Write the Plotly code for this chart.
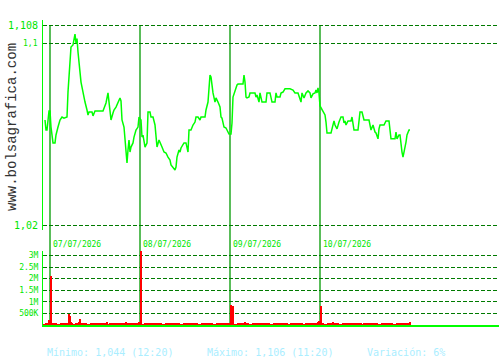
import plotly.graph_objects as go

# ---------------- data ----------------
# time index: 1 unit per sample slot, day sessions start at 0, 90, 180, 270
day_starts = [0, 90, 180, 270]
day_labels = ["07/07/2026", "08/07/2026", "09/07/2026", "10/07/2026"]

price_t = [-5, -4, -3, -1, 0, 1, 3, 5, 6, 7, 8, 10, 12, 14, 17, 18, 20, 21, 23, 24, 25, 26, 27, 28,
           29, 30, 31, 32, 33, 35, 37, 38, 39, 42, 43, 45, 53, 54, 56, 58, 59, 60, 61, 63, 64, 66,
           68, 70, 71, 72, 74, 75, 77, 78, 79, 80, 81, 83, 84, 86, 88,
           89, 91, 92, 93, 95, 97, 98, 100, 101, 103, 105, 106, 107, 109, 110, 112, 114, 116, 118,
           120, 121, 123, 125, 126, 127, 129, 130, 131, 134, 136, 138, 139, 141, 143, 145, 146, 148,
           150, 151, 155, 156, 158, 159, 160, 161, 162, 163, 165, 166, 168, 170, 171, 172, 174, 176,
           177, 179, 181, 182,
           183, 185, 187, 188, 193, 194, 195, 196, 197, 199, 200, 205, 206, 207, 209, 210, 212, 216,
           217, 220, 222, 225, 226, 227, 230, 231, 233, 235, 240, 243, 245, 248, 250, 251, 252, 254,
           256, 258, 260, 261, 263, 265, 266, 267, 268, 269, 270,
           271, 273, 275, 276, 277, 281, 282, 284, 285, 287, 289, 290, 291, 293, 294, 295, 296, 298,
           301, 302, 303, 304, 308, 309, 310, 312, 314, 319, 320, 321, 323, 324, 325, 326, 327, 328,
           329, 330, 334, 336, 339, 340, 341, 345, 346, 347, 349, 350, 351, 352, 353, 354, 355, 356,
           357, 358, 359, 360]

price_v = [1.0662, 1.0618, 1.0618, 1.0702, 1.0702, 1.0631, 1.0561, 1.0561, 1.0596, 1.0618, 1.0631,
           1.0662, 1.0675, 1.0670, 1.0675, 1.0785, 1.0926, 1.0983, 1.0992, 1.1014, 1.1040, 1.1000,
           1.1020, 1.0961, 1.0913, 1.0873, 1.0829, 1.0807, 1.0781, 1.0741, 1.0706, 1.0684, 1.0697,
           1.0697, 1.0680, 1.0702, 1.0702, 1.0715, 1.0737, 1.0781, 1.0741, 1.0697, 1.0662, 1.0693,
           1.0706, 1.0719, 1.0737, 1.0759, 1.0746, 1.0662, 1.0631, 1.0574, 1.0473, 1.0530, 1.0574,
           1.0521, 1.0543, 1.0561, 1.0587, 1.0618, 1.0631,
           1.0675, 1.0662, 1.0587, 1.0596, 1.0543, 1.0561, 1.0697, 1.0697, 1.0675, 1.0675, 1.0640,
           1.0587, 1.0543, 1.0574, 1.0561, 1.0543, 1.0521, 1.0517, 1.0499, 1.0486, 1.0464, 1.0451,
           1.0442, 1.0455, 1.0499, 1.0530, 1.0521, 1.0539, 1.0561, 1.0561, 1.0521, 1.0618, 1.0618,
           1.0640, 1.0653, 1.0675, 1.0675, 1.0662, 1.0675, 1.0675, 1.0706, 1.0741, 1.0803, 1.0860,
           1.0851, 1.0803, 1.0781, 1.0741, 1.0759, 1.0741, 1.0719, 1.0675, 1.0670, 1.0631, 1.0627,
           1.0618, 1.0600, 1.0600, 1.0649,
           1.0763, 1.0794, 1.0816, 1.0820, 1.0820, 1.0860, 1.0829, 1.0763, 1.0759, 1.0763, 1.0781,
           1.0781, 1.0763, 1.0772, 1.0741, 1.0781, 1.0741, 1.0741, 1.0781, 1.0781, 1.0741, 1.0741,
           1.0781, 1.0763, 1.0763, 1.0781, 1.0785, 1.0799, 1.0799, 1.0794, 1.0781, 1.0781, 1.0759,
           1.0741, 1.0781, 1.0759, 1.0781, 1.0790, 1.0781, 1.0759, 1.0777, 1.0781, 1.0794, 1.0781,
           1.0803, 1.0781, 1.0724,
           1.0715, 1.0697, 1.0684, 1.0653, 1.0605, 1.0605, 1.0627, 1.0658, 1.0640, 1.0623, 1.0653,
           1.0662, 1.0675, 1.0675, 1.0649, 1.0658, 1.0640, 1.0658, 1.0658, 1.0675, 1.0649, 1.0618,
           1.0618, 1.0671, 1.0697, 1.0697, 1.0662, 1.0662, 1.0640, 1.0618, 1.0640, 1.0623, 1.0609,
           1.0605, 1.0592, 1.0579, 1.0623, 1.0640, 1.0640, 1.0658, 1.0658, 1.0618, 1.0579, 1.0579,
           1.0609, 1.0579, 1.0596, 1.0596, 1.0552, 1.0521, 1.0499, 1.0517, 1.0539, 1.0565, 1.0596,
           1.0605, 1.0618, 1.0618]

price_ticks = [1.108, 1.1, 1.02]
price_tick_labels = ["1,108", "1,1", "1,02"]
price_tick_sizes = [10, 8, 10]

# volume spikes
vol_t = [-4, -1, 1, 19, 20, 21, 22, 27, 28, 29, 30, 33, 57, 60, 72, 74, 76, 78, 80, 86, 88, 89,
         91, 97, 99, 102, 104, 117, 127, 139, 162, 179, 181, 183, 195, 241, 256, 268, 269, 270,
         271, 283, 304, 310, 311, 340, 349, 350, 354, 355, 360]
vol_v = [70000, 200000, 2100000, 470000, 390000, 120000, 80000, 60000, 90000, 140000, 260000,
         80000, 130000, 60000, 60000, 60000, 130000, 60000, 60000, 50000, 60000, 130000,
         3200000, 60000, 60000, 60000, 90000, 60000, 90000, 60000, 60000, 80000, 860000, 820000,
         140000, 60000, 100000, 110000, 160000, 60000, 820000, 140000, 60000, 70000, 70000,
         60000, 70000, 70000, 70000, 70000, 110000]

# small background volumes (every 3 slots from -6)
vol_minor = [40, 50, 45, 55, 50, 40, 45, 50, 55, 45, 40, 50, 45, 50, 55, 40, 45, 50, 45, 55,
             50, 45, 40, 50, 55, 45, 50, 40, 45, 50, 55, 50, 45, 40, 50, 45, 55, 50, 45, 50,
             40, 45, 50, 55, 45, 50, 40, 45, 50, 55, 45, 50, 40, 45, 55, 50, 45, 40, 50, 45,
             55, 50, 45, 50, 40, 45, 50, 55, 45, 40, 50, 45, 55, 50, 45, 50, 40, 45, 50, 55,
             45, 50, 40, 45, 55, 50, 45, 40, 50, 45, 55, 50, 45, 50, 40, 45, 50, 55, 45, 40,
             50, 45, 55, 50, 45, 50, 40, 45, 50, 55, 45, 50, 40, 45, 55, 50, 45, 40, 50, 45,
             55, 50, 45]
vol_minor_t = [-6 + 3 * i for i in range(len(vol_minor))]
vol_minor_v = [k * 1000 for k in vol_minor]

vol_ticks = [500000, 1000000, 1500000, 2000000, 2500000, 3000000]
vol_tick_labels = ["500K", "1M", "1.5M", "2M", "2.5M", "3M"]

footer = ["Mínimo: 1,044 (12:20)", "Máximo: 1,106 (11:20)", "Variación: 6%"]

# ---------------- layout geometry ----------------
W, H = 500, 360
L, R, T, B = 43, 1, 20, 35
plot_h = H - T - B          # 305
plot_w = W - L - R          # 456


def py(px):  # pixel row -> paper y
    return (H - B - px) / plot_h


def pxp(px):  # pixel col -> paper x
    return (px - L) / plot_w


MONO = "DejaVu Sans Mono"
GREEN = "#00ff00"
TXTGREEN = "#00e600"
GRID = "#007a00"
DAYLINE = "#009a00"

fig = go.Figure()

fig.add_trace(go.Bar(x=vol_minor_t, y=vol_minor_v, width=3, marker_color="#ff0000",
                     marker_line_width=0, xaxis="x2", yaxis="y2"))
fig.add_trace(go.Bar(x=vol_t, y=vol_v, width=1.1, marker_color="#ff0000",
                     marker_line_width=0, xaxis="x2", yaxis="y2"))
fig.add_trace(go.Scatter(x=price_t, y=price_v, mode="lines",
                         line=dict(color=GREEN, width=1.5), xaxis="x", yaxis="y"))

xr = [-7, -7 + plot_w]

fig.update_layout(
    width=W, height=H,
    margin=dict(l=L, r=R, t=T, b=B, pad=0),
    paper_bgcolor="white", plot_bgcolor="white",
    showlegend=False, bargap=0,
    font=dict(family=MONO, color=TXTGREEN, size=8),
    xaxis=dict(domain=[0, 1], range=xr, anchor="y", showticklabels=False,
               showgrid=False, zeroline=False, showline=False, ticks=""),
    yaxis=dict(domain=[py(230), 1], range=[1.0178, 1.1102], tickvals=price_ticks,
               showticklabels=False, showgrid=True, gridcolor=GRID, griddash="4px,2px",
               gridwidth=1, zeroline=False, showline=True, linecolor=GREEN, linewidth=1,
               ticks=""),
    xaxis2=dict(domain=[0, 1], range=xr, anchor="y2", matches="x", showticklabels=False,
                showgrid=False, zeroline=False, showline=True, linecolor=GREEN, linewidth=2,
                ticks=""),
    yaxis2=dict(domain=[0, py(251)], range=[0, 3.19e6], tickvals=vol_ticks,
                ticktext=vol_tick_labels, tickfont=dict(family=MONO, size=8, color=TXTGREEN),
                showgrid=True, gridcolor=GRID, griddash="4px,2px", gridwidth=1,
                zeroline=False, showline=True, linecolor=GREEN, linewidth=1, ticks="",
                ticklabelstandoff=2),
)

shapes = []
annotations = []
for d, lab in zip(day_starts, day_labels):
    shapes.append(dict(type="line", xref="x", yref="paper", x0=d, x1=d, layer="below",
                       y0=0, y1=py(25), line=dict(color=DAYLINE, width=1.3)))
    annotations.append(dict(xref="x", yref="paper", x=d, y=py(244), text=lab,
                            showarrow=False, xanchor="left", yanchor="middle", xshift=1,
                            font=dict(family=MONO, size=8, color=TXTGREEN)))

for v, lab, s in zip(price_ticks, price_tick_labels, price_tick_sizes):
    annotations.append(dict(xref="paper", yref="y", x=0, y=v, text=lab, showarrow=False,
                            xanchor="right", yanchor="middle", xshift=-3,
                            font=dict(family=MONO, size=s, color=TXTGREEN)))

for txt, xpix in zip(footer, [45, 205, 365]):
    annotations.append(dict(xref="paper", yref="paper", x=pxp(xpix), y=py(352), text=txt,
                            showarrow=False, xanchor="left", yanchor="middle",
                            font=dict(family=MONO, size=10, color="#aaeeff")))

annotations.append(dict(xref="paper", yref="paper", x=pxp(12), y=py(127), text="www.bolsagrafica.com",
                        showarrow=False, textangle=-90, xanchor="center", yanchor="middle",
                        font=dict(family="Liberation Mono", size=14, color="#333333")))

fig.update_layout(shapes=shapes, annotations=annotations)

fig.write_html("out.html")
